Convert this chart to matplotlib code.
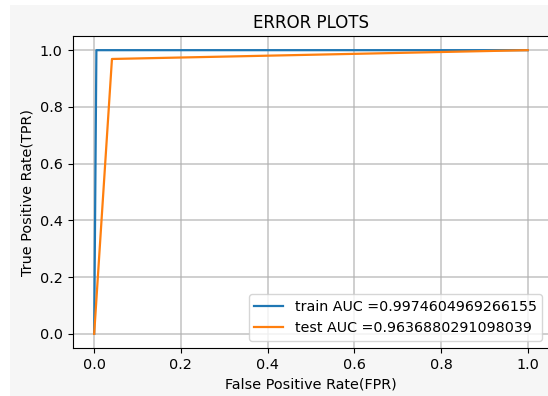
import numpy as np
import matplotlib
matplotlib.use("Agg")
import matplotlib.pyplot as plt
from matplotlib.patches import Rectangle

# ROC points
train_fpr = [0.0, 0.0051, 1.0]
train_tpr = [0.0, 1.0, 1.0]
test_fpr = [0.0, 0.041, 1.0]
test_tpr = [0.0, 0.969, 1.0]
train_auc = "0.9974604969266155"
test_auc = "0.9636880291098039"

fig = plt.figure(figsize=(5.48, 3.96), dpi=100, facecolor="white")
# light grey notebook background behind the plot
fig.patches.append(Rectangle((10 / 548, 0), 1, 1 - 5 / 396, transform=fig.transFigure,
                             facecolor="#f6f6f6", edgecolor="none", zorder=-10))

ax = fig.add_axes([0.1323, 0.1212, 0.8703, 0.7879])
ax.plot(train_fpr, train_tpr, label="train AUC =" + train_auc, linewidth=1.6)
ax.plot(test_fpr, test_tpr, label="test AUC =" + test_auc, linewidth=1.6)
ax.set_xlim(-0.05, 1.05)
ax.set_ylim(-0.05, 1.05)
ax.grid(color="#b0b0b0", linewidth=1.2, alpha=0.7)
ax.set_title("ERROR PLOTS", fontsize=12)
ax.set_xlabel("False Positive Rate(FPR)", fontsize=10.4)
ax.set_ylabel("True Positive Rate(TPR)", fontsize=10.4)
ax.tick_params(labelsize=10.4)
ax.legend(loc="lower right", fontsize=10.3)

fig.savefig("out.png", dpi=100)
